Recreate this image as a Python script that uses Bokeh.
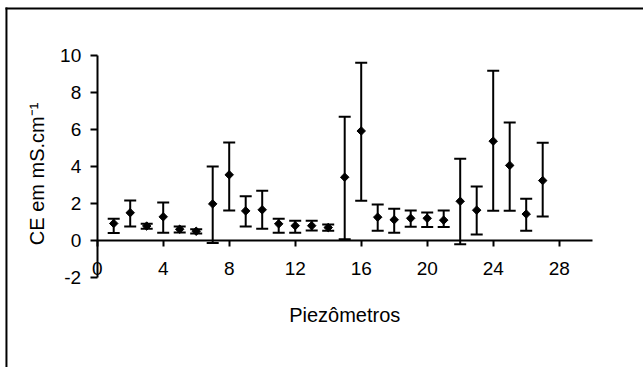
import math
from bokeh.plotting import figure
from bokeh.models import (ColumnDataSource, Whisker, TeeHead, FixedTicker,
                          Range1d, Label)
from bokeh.embed import file_html
from bokeh.resources import INLINE

# Electrical conductivity per piezometer: mean with min/max range
piezometro = list(range(1, 28))
ce_media = [0.92, 1.50, 0.78, 1.28, 0.61, 0.50, 1.98, 3.55, 1.60, 1.66,
            0.90, 0.80, 0.80, 0.70, 3.42, 5.92, 1.26, 1.12, 1.20, 1.20,
            1.10, 2.12, 1.64, 5.37, 4.06, 1.43, 3.24]
ce_max = [1.18, 2.16, 0.90, 2.05, 0.75, 0.61, 4.00, 5.30, 2.39, 2.69,
          1.18, 1.07, 1.07, 0.86, 6.69, 9.61, 1.94, 1.72, 1.62, 1.51,
          1.62, 4.42, 2.92, 9.18, 6.38, 2.26, 5.29]
ce_min = [0.41, 0.76, 0.64, 0.42, 0.43, 0.38, -0.13, 1.62, 0.75, 0.63,
          0.42, 0.42, 0.54, 0.53, 0.07, 2.15, 0.53, 0.42, 0.74, 0.73,
          0.73, -0.20, 0.32, 1.61, 1.61, 0.53, 1.30]
x_ticks = [0, 4, 8, 12, 16, 20, 24, 28]
y_ticks = [-2, 0, 2, 4, 6, 8, 10]

src = ColumnDataSource(dict(x=piezometro, media=ce_media,
                            upper=ce_max, lower=ce_min))

FONT = "Liberation Sans"

# The plotting frame covers the whole canvas; both axes cross at the origin.
p = figure(width=643, height=367, output_backend="svg", toolbar_location=None,
           x_range=Range1d(-5.861, 33.109), y_range=Range1d(-6.865, 12.973),
           min_border=0, min_border_left=0, min_border_right=0,
           min_border_top=0, min_border_bottom=0,
           background_fill_color="white", border_fill_color="white")
p.outline_line_color = None
p.xgrid.visible = False
p.ygrid.visible = False

xa = p.xaxis[0]
xa.fixed_location = 0
xa.bounds = (0, 30)
xa.ticker = FixedTicker(ticks=x_ticks)
xa.axis_line_width = 2
xa.major_tick_line_width = 2
xa.major_tick_in = 0
xa.major_tick_out = 6
xa.minor_tick_line_color = None
xa.major_label_standoff = 16
xa.major_label_text_font = FONT
xa.major_label_text_font_size = "19px"
xa.major_label_text_color = "black"

ya = p.yaxis[0]
ya.fixed_location = 0
ya.bounds = (-2, 10)
ya.ticker = FixedTicker(ticks=y_ticks)
ya.major_label_overrides = {-2: "-2"}
ya.axis_line_width = 2
ya.major_tick_line_width = 2
ya.major_tick_in = 0
ya.major_tick_out = 7
ya.minor_tick_line_color = None
ya.major_label_standoff = 9
ya.major_label_text_font = FONT
ya.major_label_text_font_size = "19px"
ya.major_label_text_color = "black"

# axis titles
p.add_layout(Label(x=15, y=-4.05, text="Piezômetros", text_font=FONT,
                   text_font_size="20px", text_color="black",
                   text_align="center", text_baseline="middle"))
p.add_layout(Label(x=-3.62, y=3.6, text="CE em mS.cm\u207b\u00b9", text_font=FONT,
                   text_font_size="20px", text_color="black", angle=math.pi / 2,
                   text_align="center", text_baseline="middle"))

# range bars
p.add_layout(Whisker(source=src, base="x", upper="upper", lower="lower",
                     line_width=2, line_color="black",
                     upper_head=TeeHead(size=12, line_width=2, line_color="black"),
                     lower_head=TeeHead(size=12, line_width=2, line_color="black")))

# mean markers
p.scatter("x", "media", source=src, marker="square", angle=0.785398,
          size=6, fill_color="black", line_color="black")

# chart area border (left and top edges)
p.segment(x0=[-5.5, -5.5], y0=[12.54, 12.54], x1=[-5.5, 40], y1=[-10, 12.54],
          line_color="black", line_width=2, line_cap="square")

open("out.html", "w").write(file_html(p, INLINE))
